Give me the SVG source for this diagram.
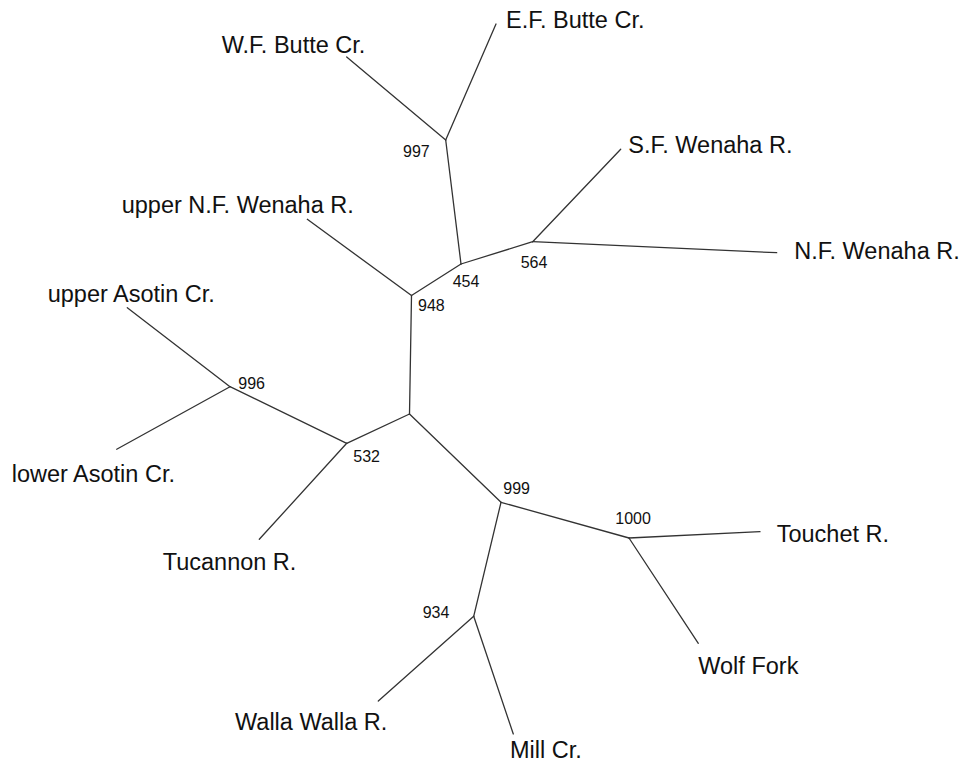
<svg xmlns="http://www.w3.org/2000/svg" width="964" height="763" viewBox="0 0 964 763">
<style>
.e{stroke:#333;stroke-width:1.3;fill:none;stroke-linecap:round}
.t{font-family:"Liberation Sans",Arial,sans-serif;font-size:23.5px;fill:#111}
.b{font-family:"Liberation Sans",Arial,sans-serif;font-size:16px;fill:#111}
</style>
<rect width="964" height="763" fill="#fff"/>
<g id="connectors">
<line class="e" x1="409.5" y1="414" x2="411.5" y2="295.5"/>
<line class="e" x1="411.5" y1="295.5" x2="461" y2="264"/>
<line class="e" x1="461" y1="264" x2="445.7" y2="140"/>
<line class="e" x1="445.7" y1="140" x2="346.7" y2="57"/>
<line class="e" x1="445.7" y1="140" x2="496" y2="24"/>
<line class="e" x1="461" y1="264" x2="532.7" y2="241.7"/>
<line class="e" x1="532.7" y1="241.7" x2="620.7" y2="149.3"/>
<line class="e" x1="532.7" y1="241.7" x2="776.7" y2="252.7"/>
<line class="e" x1="411.5" y1="295.5" x2="307.3" y2="219.3"/>
<line class="e" x1="409.5" y1="414" x2="346.7" y2="443.3"/>
<line class="e" x1="346.7" y1="443.3" x2="230" y2="386.7"/>
<line class="e" x1="230" y1="386.7" x2="127.3" y2="307.7"/>
<line class="e" x1="230" y1="386.7" x2="116.7" y2="449.3"/>
<line class="e" x1="346.7" y1="443.3" x2="259.3" y2="539.3"/>
<line class="e" x1="409.5" y1="414" x2="501" y2="502.3"/>
<line class="e" x1="501" y1="502.3" x2="629" y2="538"/>
<line class="e" x1="629" y1="538" x2="760" y2="531.7"/>
<line class="e" x1="629" y1="538" x2="698.3" y2="643.3"/>
<line class="e" x1="501" y1="502.3" x2="473.7" y2="616.3"/>
<line class="e" x1="473.7" y1="616.3" x2="378.3" y2="701"/>
<line class="e" x1="473.7" y1="616.3" x2="513.3" y2="734"/>
</g>
<g id="n997"><text class="b" x="403" y="157">997</text></g>
<g id="n454"><text class="b" x="452.7" y="287.3">454</text></g>
<g id="n564"><text class="b" x="520.7" y="268.3">564</text></g>
<g id="n948"><text class="b" x="418" y="311">948</text></g>
<g id="n996"><text class="b" x="238.3" y="389">996</text></g>
<g id="n532"><text class="b" x="353.3" y="461.7">532</text></g>
<g id="n999"><text class="b" x="503.3" y="494">999</text></g>
<g id="n1000"><text class="b" x="615.3" y="524">1000</text></g>
<g id="n934"><text class="b" x="422.7" y="617.5">934</text></g>
<g id="wf-butte"><text class="t" x="221.7" y="53">W.F. Butte Cr.</text></g>
<g id="ef-butte"><text class="t" x="506" y="28.3">E.F. Butte Cr.</text></g>
<g id="sf-wenaha"><text class="t" x="628.3" y="153.3">S.F. Wenaha R.</text></g>
<g id="nf-wenaha"><text class="t" x="794.3" y="259.3">N.F. Wenaha R.</text></g>
<g id="upper-nf-wenaha"><text class="t" x="121.7" y="213.3">upper N.F. Wenaha R.</text></g>
<g id="upper-asotin"><text class="t" x="47.7" y="301.7">upper Asotin Cr.</text></g>
<g id="lower-asotin"><text class="t" x="11.7" y="482.3">lower Asotin Cr.</text></g>
<g id="tucannon"><text class="t" x="162.7" y="570">Tucannon R.</text></g>
<g id="touchet"><text class="t" x="776.7" y="542.3">Touchet R.</text></g>
<g id="wolf-fork"><text class="t" x="698.3" y="674.3">Wolf Fork</text></g>
<g id="walla-walla"><text class="t" x="235" y="730">Walla Walla R.</text></g>
<g id="mill"><text class="t" x="510" y="758">Mill Cr.</text></g>
</svg>
